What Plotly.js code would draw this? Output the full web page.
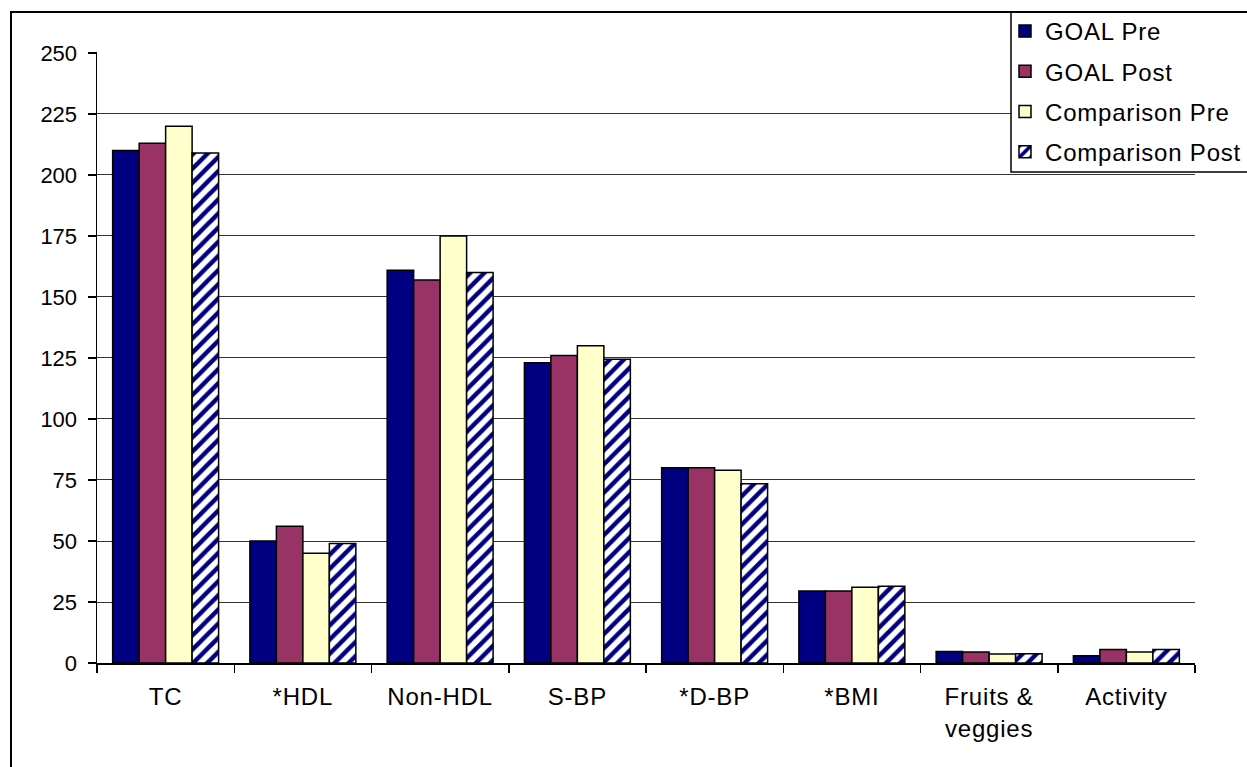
<!DOCTYPE html>
<html>
<head>
<meta charset="utf-8">
<script src="https://cdn.plot.ly/plotly-3.0.1.min.js"></script>
<style>
  html, body { margin: 0; padding: 0; background: #fff; }
  #wrap { position: relative; width: 1247px; height: 767px; overflow: hidden; }
  #chart { width: 1247px; height: 767px; }
  #frame { position: absolute; left: 10px; top: 11px; width: 1300px; height: 900px;
           border-left: 2px solid #000; border-top: 2px solid #000; pointer-events: none; z-index: 5; }
  .xtick text, .legendtext { letter-spacing: 0.8px; }
</style>
</head>
<body>
<div id="wrap">
  <div id="chart"></div>
  <div id="frame"></div>
</div>
<script>
const categories = ["TC", "*HDL", "Non-HDL", "S-BP", "*D-BP", "*BMI", "Fruits &<br>veggies", "Activity"];
const goalPre        = [210, 50, 161, 123, 80, 29.5, 4.7, 3.0];
const goalPost       = [213, 56, 157, 126, 80, 29.5, 4.5, 5.5];
const comparisonPre  = [220, 45, 175, 130, 79, 31, 3.7, 4.5];
const comparisonPost = [209, 49, 160, 124.5, 73.5, 31.5, 3.8, 5.5];
const seriesNames = ["GOAL Pre", "GOAL Post", "Comparison Pre", "Comparison Post"];
const yTickVals = [0, 25, 50, 75, 100, 125, 150, 175, 200, 225, 250];

const font = "Liberation Sans, Arial, sans-serif";
const outline = { color: "#000", width: 1.5 };

const traces = [
  { name: seriesNames[0], y: goalPre, marker: { color: "#000080", line: outline } },
  { name: seriesNames[1], y: goalPost, marker: { color: "#993366", line: outline } },
  { name: seriesNames[2], y: comparisonPre, marker: { color: "#FFFFCC", line: outline } },
  { name: seriesNames[3], y: comparisonPost, marker: {
      color: "#ffffff", line: outline,
      pattern: { shape: "/", fgcolor: "#000080", bgcolor: "#ffffff", size: 10, solidity: 0.45 }
  } }
].map((t, i) => Object.assign({ type: "bar", x: categories, legendgroup: "g" + i, hoverinfo: "y" }, t));

// plot area pixels: x 97..1195, y 52..663
const L = 97, R = 1195, T = 52, B = 663;
const pw = R - L, ph = B - T;
const px = v => (v - L) / pw;
const py = v => (B - v) / ph;

const layout = {
  width: 1247, height: 767,
  margin: { l: L, r: 1247 - R, t: T, b: 767 - B, pad: 0, autoexpand: false },
  paper_bgcolor: "#ffffff",
  plot_bgcolor: "#ffffff",
  font: { family: font, color: "#000", size: 22 },
  barmode: "group",
  bargap: 0.228,
  bargroupgap: 0,
  showlegend: true,
  legend: {
    x: px(1005), y: py(9), xanchor: "left", yanchor: "top",
    bgcolor: "rgba(0,0,0,0)", borderwidth: 0,
    font: { family: font, size: 24, color: "#000" },
    traceorder: "grouped", tracegroupgap: 6
  },
  xaxis: {
    type: "category",
    showline: true, linecolor: "#000", linewidth: 1.5,
    ticks: "outside", ticklen: 8, tickcolor: "#000", tickwidth: 1.5,
    tickson: "boundaries",
    showgrid: false, zeroline: false,
    tickfont: { family: font, size: 24, color: "#000" },
    ticklabelstandoff: 12,
    fixedrange: true
  },
  yaxis: {
    range: [0, 250.4],
    tickvals: yTickVals, ticktext: yTickVals.map(String),
    showline: true, linecolor: "#000", linewidth: 1.5,
    ticks: "outside", ticklen: 8, tickcolor: "#000", tickwidth: 1.5,
    showgrid: true, gridcolor: "#333333", gridwidth: 1,
    zeroline: false,
    tickfont: { family: font, size: 22, color: "#000" },
    ticklabelstandoff: 6,
    fixedrange: true
  },
  shapes: [
    { type: "rect", xref: "paper", yref: "paper",
      x0: px(1011), x1: px(1320), y0: py(172), y1: py(12),
      line: { color: "#000", width: 1.5 }, fillcolor: "#ffffff", layer: "above" }
  ]
};

Plotly.newPlot("chart", traces, layout, { displayModeBar: false, staticPlot: true });
</script>
</body>
</html>
